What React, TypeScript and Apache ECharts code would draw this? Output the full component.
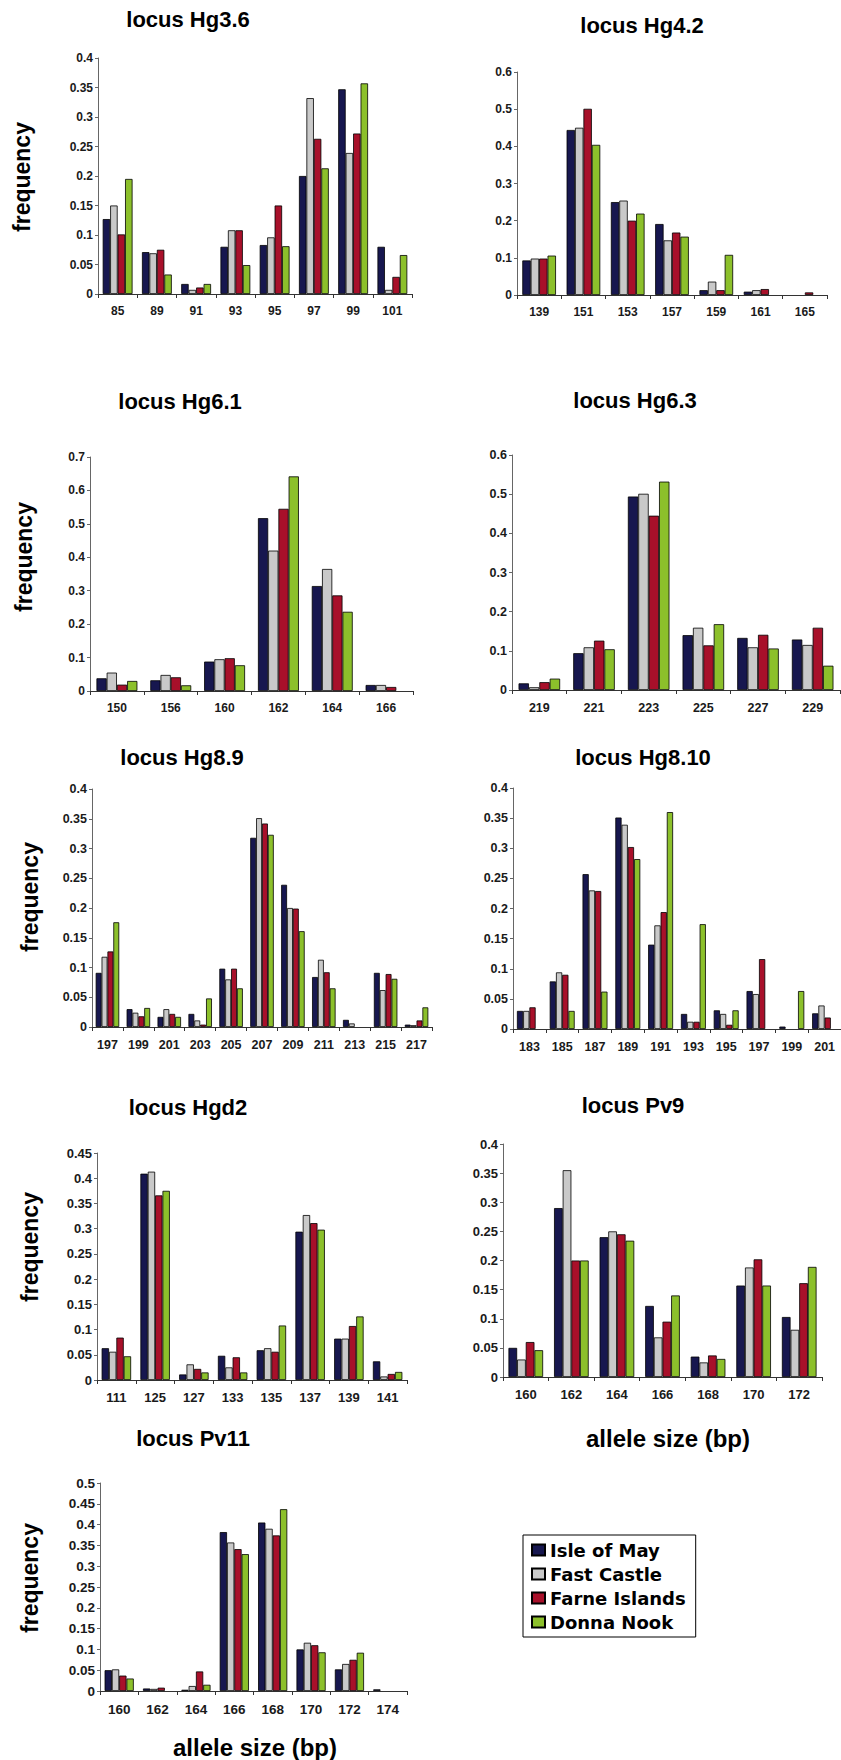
import React, { useEffect, useRef } from "react";
import * as echarts from "echarts";

const seriesNames = ["Isle of May", "Fast Castle", "Farne Islands", "Donna Nook"];
const seriesColors = ["#17174f", "#c9c9c9", "#a8102a", "#8cc02b"];

// locus Hg3.6
const hg36Alleles = ["85", "89", "91", "93", "95", "97", "99", "101"];
const hg36IsleOfMay = [0.127, 0.071, 0.017, 0.08, 0.083, 0.2, 0.347, 0.08];
const hg36FastCastle = [0.15, 0.069, 0.007, 0.108, 0.096, 0.332, 0.239, 0.007];
const hg36FarneIslands = [0.101, 0.075, 0.011, 0.108, 0.15, 0.263, 0.272, 0.029];
const hg36DonnaNook = [0.195, 0.033, 0.017, 0.049, 0.081, 0.213, 0.357, 0.066];

// locus Hg4.2
const hg42Alleles = ["139", "151", "153", "157", "159", "161", "165"];
const hg42IsleOfMay = [0.093, 0.444, 0.25, 0.191, 0.013, 0.009, 0];
const hg42FastCastle = [0.098, 0.45, 0.254, 0.147, 0.036, 0.013, 0];
const hg42FarneIslands = [0.098, 0.501, 0.2, 0.168, 0.013, 0.016, 0.007];
const hg42DonnaNook = [0.106, 0.404, 0.219, 0.157, 0.108, 0, 0];

// locus Hg6.1
const hg61Alleles = ["150", "156", "160", "162", "164", "166"];
const hg61IsleOfMay = [0.038, 0.032, 0.088, 0.517, 0.314, 0.018];
const hg61FastCastle = [0.055, 0.048, 0.095, 0.42, 0.365, 0.018];
const hg61FarneIslands = [0.019, 0.041, 0.098, 0.545, 0.286, 0.012];
const hg61DonnaNook = [0.03, 0.017, 0.077, 0.642, 0.237, 0];

// locus Hg6.3
const hg63Alleles = ["219", "221", "223", "225", "227", "229"];
const hg63IsleOfMay = [0.017, 0.094, 0.494, 0.14, 0.133, 0.129];
const hg63FastCastle = [0.007, 0.109, 0.501, 0.159, 0.109, 0.115];
const hg63FarneIslands = [0.02, 0.126, 0.445, 0.114, 0.141, 0.159];
const hg63DonnaNook = [0.029, 0.104, 0.532, 0.168, 0.106, 0.062];

// locus Hg8.9
const hg89Alleles = ["197", "199", "201", "203", "205", "207", "209", "211", "213", "215", "217"];
const hg89IsleOfMay = [0.091, 0.03, 0.017, 0.022, 0.098, 0.318, 0.239, 0.084, 0.012, 0.091, 0.004];
const hg89FastCastle = [0.118, 0.024, 0.03, 0.011, 0.08, 0.351, 0.2, 0.113, 0.006, 0.062, 0.003];
const hg89FarneIslands = [0.127, 0.018, 0.022, 0.004, 0.098, 0.342, 0.199, 0.092, 0, 0.089, 0.011];
const hg89DonnaNook = [0.176, 0.032, 0.017, 0.048, 0.065, 0.323, 0.161, 0.065, 0, 0.081, 0.033];

// locus Hg8.10
const hg810Alleles = ["183", "185", "187", "189", "191", "193", "195", "197", "199", "201"];
const hg810IsleOfMay = [0.03, 0.079, 0.257, 0.351, 0.14, 0.025, 0.031, 0.063, 0.004, 0.026];
const hg810FastCastle = [0.03, 0.094, 0.23, 0.339, 0.172, 0.012, 0.025, 0.058, 0, 0.039];
const hg810FarneIslands = [0.036, 0.09, 0.229, 0.302, 0.194, 0.012, 0.007, 0.116, 0, 0.019];
const hg810DonnaNook = [0, 0.03, 0.062, 0.282, 0.36, 0.174, 0.031, 0, 0.063, 0];

// locus Hgd2
const hgd2Alleles = ["111", "125", "127", "133", "135", "137", "139", "141"];
const hgd2IsleOfMay = [0.063, 0.409, 0.011, 0.048, 0.059, 0.294, 0.082, 0.037];
const hgd2FastCastle = [0.056, 0.413, 0.031, 0.025, 0.063, 0.327, 0.082, 0.007];
const hgd2FarneIslands = [0.084, 0.366, 0.022, 0.045, 0.056, 0.311, 0.107, 0.012];
const hgd2DonnaNook = [0.047, 0.375, 0.015, 0.015, 0.108, 0.298, 0.126, 0.016];

// locus Pv9
const pv9Alleles = ["160", "162", "164", "166", "168", "170", "172"];
const pv9IsleOfMay = [0.05, 0.29, 0.24, 0.122, 0.035, 0.157, 0.103];
const pv9FastCastle = [0.03, 0.355, 0.25, 0.068, 0.025, 0.188, 0.081];
const pv9FarneIslands = [0.06, 0.2, 0.245, 0.095, 0.037, 0.202, 0.161];
const pv9DonnaNook = [0.046, 0.2, 0.234, 0.14, 0.031, 0.157, 0.189];

// locus Pv11
const pv11Alleles = ["160", "162", "164", "166", "168", "170", "172", "174"];
const pv11IsleOfMay = [0.05, 0.006, 0.003, 0.382, 0.405, 0.1, 0.052, 0.004];
const pv11FastCastle = [0.052, 0.005, 0.012, 0.357, 0.39, 0.116, 0.065, 0];
const pv11FarneIslands = [0.037, 0.008, 0.047, 0.341, 0.374, 0.11, 0.075, 0];
const pv11DonnaNook = [0.03, 0, 0.015, 0.329, 0.437, 0.093, 0.092, 0];

const panels = [
  { title: "locus Hg3.6", alleles: hg36Alleles, values: [hg36IsleOfMay, hg36FastCastle, hg36FarneIslands, hg36DonnaNook], max: 0.4, interval: 0.05,
    grid: [98, 58, 314, 236], titlePos: [188, 19], freq: [22, 177], fs: 12 },
  { title: "locus Hg4.2", alleles: hg42Alleles, values: [hg42IsleOfMay, hg42FastCastle, hg42FarneIslands, hg42DonnaNook], max: 0.6, interval: 0.1,
    grid: [517, 72, 310, 223], titlePos: [642, 25], freq: null, fs: 12 },
  { title: "locus Hg6.1", alleles: hg61Alleles, values: [hg61IsleOfMay, hg61FastCastle, hg61FarneIslands, hg61DonnaNook], max: 0.7, interval: 0.1,
    grid: [90, 457, 323, 234], titlePos: [180, 401], freq: [24, 557], fs: 12 },
  { title: "locus Hg6.3", alleles: hg63Alleles, values: [hg63IsleOfMay, hg63FastCastle, hg63FarneIslands, hg63DonnaNook], max: 0.6, interval: 0.1,
    grid: [512, 455, 328, 235], titlePos: [635, 400], freq: null, fs: 12.5 },
  { title: "locus Hg8.9", alleles: hg89Alleles, values: [hg89IsleOfMay, hg89FastCastle, hg89FarneIslands, hg89DonnaNook], max: 0.4, interval: 0.05,
    grid: [92, 789, 340, 238], titlePos: [182, 757], freq: [30, 897], fs: 12.5 },
  { title: "locus Hg8.10", alleles: hg810Alleles, values: [hg810IsleOfMay, hg810FastCastle, hg810FarneIslands, hg810DonnaNook], max: 0.4, interval: 0.05,
    grid: [513, 788, 333, 241], titlePos: [643, 757], freq: null, fs: 12.5 },
  { title: "locus Hgd2", alleles: hgd2Alleles, values: [hgd2IsleOfMay, hgd2FastCastle, hgd2FarneIslands, hgd2DonnaNook], max: 0.45, interval: 0.05,
    grid: [97, 1153, 310, 227], titlePos: [188, 1107], freq: [30, 1247], fs: 13 },
  { title: "locus Pv9", alleles: pv9Alleles, values: [pv9IsleOfMay, pv9FastCastle, pv9FarneIslands, pv9DonnaNook], max: 0.4, interval: 0.05,
    grid: [503, 1144, 319, 233], titlePos: [633, 1105], freq: null, fs: 13 },
  { title: "locus Pv11", alleles: pv11Alleles, values: [pv11IsleOfMay, pv11FastCastle, pv11FarneIslands, pv11DonnaNook], max: 0.5, interval: 0.05,
    grid: [100, 1483, 307, 208], titlePos: [193, 1438], freq: [30, 1578], fs: 13.5 },
];

const alleleLabels = [[668, 1438], [255, 1747]];

const FONT = '"Liberation Sans", Arial, Helvetica, sans-serif';

export default function App() {
  const ref = useRef<HTMLDivElement>(null);

  useEffect(() => {
    document.body.style.margin = "0";
    if (!ref.current) return;
    const chart = echarts.init(ref.current, null, { renderer: "svg" });

    const grids: any[] = [];
    const xAxes: any[] = [];
    const yAxes: any[] = [];
    const series: any[] = [];
    const graphics: any[] = [];

    panels.forEach((p, i) => {
      const [l, t, w, h] = p.grid;
      grids.push({ left: l, top: t, width: w, height: h, containLabel: false });
      xAxes.push({
        gridIndex: i,
        type: "category",
        data: p.alleles,
        axisLine: { lineStyle: { color: "#333", width: 1 } },
        axisTick: { show: true, length: 4, lineStyle: { color: "#333" } },
        axisLabel: { color: "#1a1a1a", fontSize: p.fs, fontWeight: "bold", fontFamily: FONT, margin: 11, interval: 0 },
        splitLine: { show: false },
      });
      yAxes.push({
        gridIndex: i,
        type: "value",
        min: 0,
        max: p.max,
        interval: p.interval,
        axisLine: { show: true, lineStyle: { color: "#666", width: 1 } },
        axisTick: { show: true, length: 3, lineStyle: { color: "#666" } },
        axisLabel: { color: "#1a1a1a", fontSize: p.fs, fontWeight: "bold", fontFamily: FONT, margin: 5 },
        splitLine: { show: false },
      });
      p.values.forEach((vals, s) => {
        series.push({
          type: "bar",
          name: seriesNames[s],
          xAxisIndex: i,
          yAxisIndex: i,
          data: vals.map((v) => (v > 0 ? v : null)),
          barGap: "0%",
          barCategoryGap: "24%",
          itemStyle: { color: seriesColors[s], borderColor: "#000", borderWidth: 0.8 },
        });
      });
      graphics.push({
        type: "text",
        x: p.titlePos[0],
        y: p.titlePos[1],
        style: {
          text: p.title,
          font: `bold 22px ${FONT}`,
          fill: "#000",
          align: "center",
          verticalAlign: "middle",
          textAlign: "center",
          textVerticalAlign: "middle",
        },
      });
      if (p.freq) {
        graphics.push({
          type: "text",
          x: p.freq[0],
          y: p.freq[1],
          rotation: Math.PI / 2,
          style: {
            text: "frequency",
            font: `bold 23px ${FONT}`,
            fill: "#000",
            align: "center",
            verticalAlign: "middle",
            textAlign: "center",
            textVerticalAlign: "middle",
          },
        });
      }
    });

    alleleLabels.forEach(([x, y]) => {
      graphics.push({
        type: "text",
        x,
        y,
        style: {
          text: "allele size (bp)",
          font: `bold 24px ${FONT}`,
          fill: "#000",
          align: "center",
          verticalAlign: "middle",
          textAlign: "center",
          textVerticalAlign: "middle",
        },
      });
    });

    chart.setOption({
      animation: false,
      backgroundColor: "#fff",
      grid: grids,
      xAxis: xAxes,
      yAxis: yAxes,
      series,
      graphic: graphics,
      legend: {
        data: seriesNames,
        orient: "vertical",
        left: 523,
        top: 1535,
        padding: [6, 10, 6, 8],
        itemGap: 6,
        itemWidth: 13,
        itemHeight: 11,
        icon: "rect",
        borderColor: "#000",
        borderWidth: 1,
        textStyle: { fontFamily: '"DejaVu Sans", sans-serif', fontWeight: "bold", fontSize: 18, lineHeight: 18, color: "#000" },
      },
    });

    return () => chart.dispose();
  }, []);

  return <div ref={ref} style={{ width: 841, height: 1760 }} />;
}
